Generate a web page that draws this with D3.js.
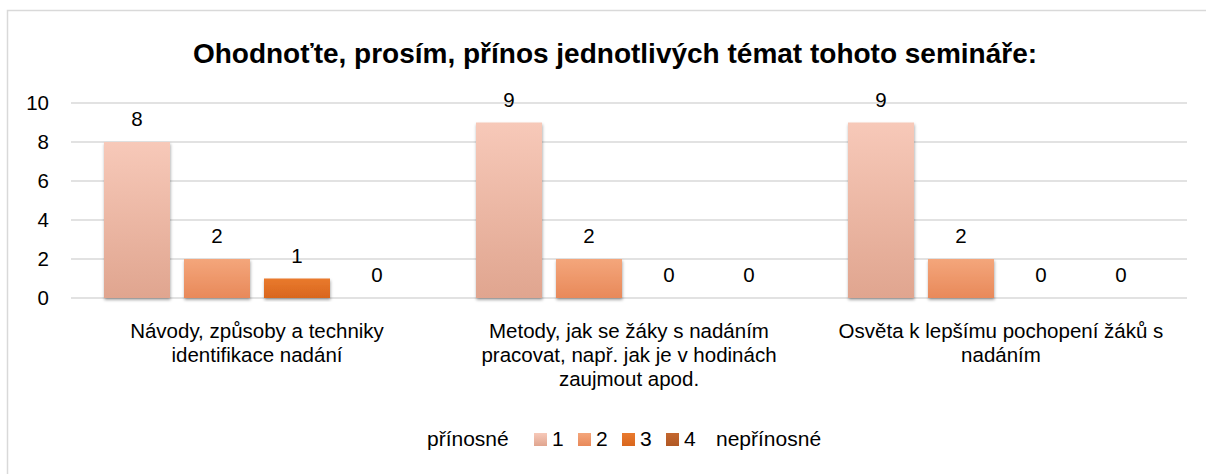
<!DOCTYPE html>
<html>
<head>
<meta charset="utf-8">
<script src="https://cdn.jsdelivr.net/npm/d3@7"></script>
<style>
body{margin:0;background:#fff;}
svg{display:block;font-family:"Liberation Sans",Arial,sans-serif;}
</style>
</head>
<body>
<script>
// chart data
var title = "Ohodnoťte, prosím, přínos jednotlivých témat tohoto semináře:";
var categories = [
  "Návody, způsoby a techniky\nidentifikace nadání",
  "Metody, jak se žáky s nadáním\npracovat, např. jak je v hodinách\nzaujmout apod.",
  "Osvěta k lepšímu pochopení žáků s\nnadáním"
];
var seriesNames = ["1","2","3","4"];
var series1 = [8,9,9];
var series2 = [2,2,2];
var series3 = [1,0,0];
var series4 = [0,0,0];
var yTicks = [0,2,4,6,8,10];
var legendBefore = "přínosné";
var legendAfter = "nepřínosné";

var allSeries = [series1,series2,series3,series4];
var colors = [["#f7c9b9","#e0a58f"],["#f4a67b","#e8895a"],["#e97a2e","#d9661d"],["#c4672f","#b05824"]];

var W=1206,H=474;
var fs=20.5;
var svg=d3.select("body").append("svg").attr("width",W).attr("height",H);

var defs=svg.append("defs");
colors.forEach(function(c,i){
  var g=defs.append("linearGradient").attr("id","grad"+i).attr("x1",0).attr("y1",0).attr("x2",0).attr("y2",1);
  g.append("stop").attr("offset","0%").attr("stop-color",c[0]);
  g.append("stop").attr("offset","100%").attr("stop-color",c[1]);
});
var f=defs.append("filter").attr("id","shadow").attr("x","-20%").attr("y","-20%").attr("width","140%").attr("height","140%");
f.append("feDropShadow").attr("dx",0.5).attr("dy",2).attr("stdDeviation",1.8).attr("flood-color","#000").attr("flood-opacity",0.35);

// chart frame
svg.append("rect").attr("x",7.5).attr("y",10.5).attr("width",W+20).attr("height",H+20)
  .attr("fill","#fff").attr("stroke","#d9d9d9").attr("stroke-width",1.5);

svg.append("text").attr("x",615).attr("y",63).attr("text-anchor","middle")
  .attr("font-size",28).attr("font-weight","bold").attr("fill","#000").text(title);

var plotLeft=71,plotRight=1187,plotTop=103,plotBottom=298;

var x0=d3.scaleBand().domain(d3.range(categories.length)).range([plotLeft,plotRight]).padding(0);
var x1=d3.scaleBand().domain(d3.range(seriesNames.length)).range([0,x0.bandwidth()])
  .paddingInner(0.175).paddingOuter(0.4125);
var y=d3.scaleLinear().domain([0,10]).range([plotBottom,plotTop]);

// gridlines
svg.append("g").selectAll("line").data(yTicks).enter().append("line")
  .attr("x1",plotLeft).attr("x2",plotRight)
  .attr("y1",function(d){return y(d);}).attr("y2",function(d){return y(d);})
  .attr("stroke","#d9d9d9").attr("stroke-width",1.5);

var yAxis=svg.append("g").attr("transform","translate("+plotLeft+",0)")
  .call(d3.axisLeft(y).tickValues(yTicks).tickSize(0).tickPadding(22));
yAxis.select(".domain").remove();
yAxis.selectAll("text").attr("font-size",fs).attr("fill","#000").attr("font-family","Liberation Sans, Arial, sans-serif");

// bars
var groups=svg.append("g").selectAll("g").data(categories).enter().append("g")
  .attr("transform",function(d,i){return "translate("+x0(i)+",0)";});

groups.each(function(cat,ci){
  var g=d3.select(this);
  allSeries.forEach(function(s,si){
    var v=s[ci];
    if(v>0){
      g.append("rect").attr("x",x1(si)).attr("width",x1.bandwidth())
        .attr("y",y(v)).attr("height",y(0)-y(v))
        .attr("fill","url(#grad"+si+")").attr("filter","url(#shadow)");
    }
    g.append("text").attr("x",x1(si)+x1.bandwidth()/2).attr("y",y(v)-16)
      .attr("text-anchor","middle").attr("font-size",fs).attr("fill","#000").text(v);
  });
});

// category labels
categories.forEach(function(c,i){
  var t=svg.append("text").attr("text-anchor","middle").attr("font-size",fs).attr("fill","#000");
  c.split("\n").forEach(function(line,li){
    t.append("tspan").attr("x",x0(i)+x0.bandwidth()/2).attr("y",338+li*24).text(line);
  });
});

// legend
var ly=439;
var leg=svg.append("g").attr("font-size",21).attr("fill","#000");
leg.append("text").attr("x",427).attr("y",ly+7).text(legendBefore);
var lx=[534,578,622,666];
seriesNames.forEach(function(n,i){
  leg.append("rect").attr("x",lx[i]).attr("y",ly-6).attr("width",13).attr("height",13).attr("fill","url(#grad"+i+")");
  leg.append("text").attr("x",lx[i]+18).attr("y",ly+7).text(n);
});
leg.append("text").attr("x",716).attr("y",ly+7).text(legendAfter);
</script>
</body>
</html>
